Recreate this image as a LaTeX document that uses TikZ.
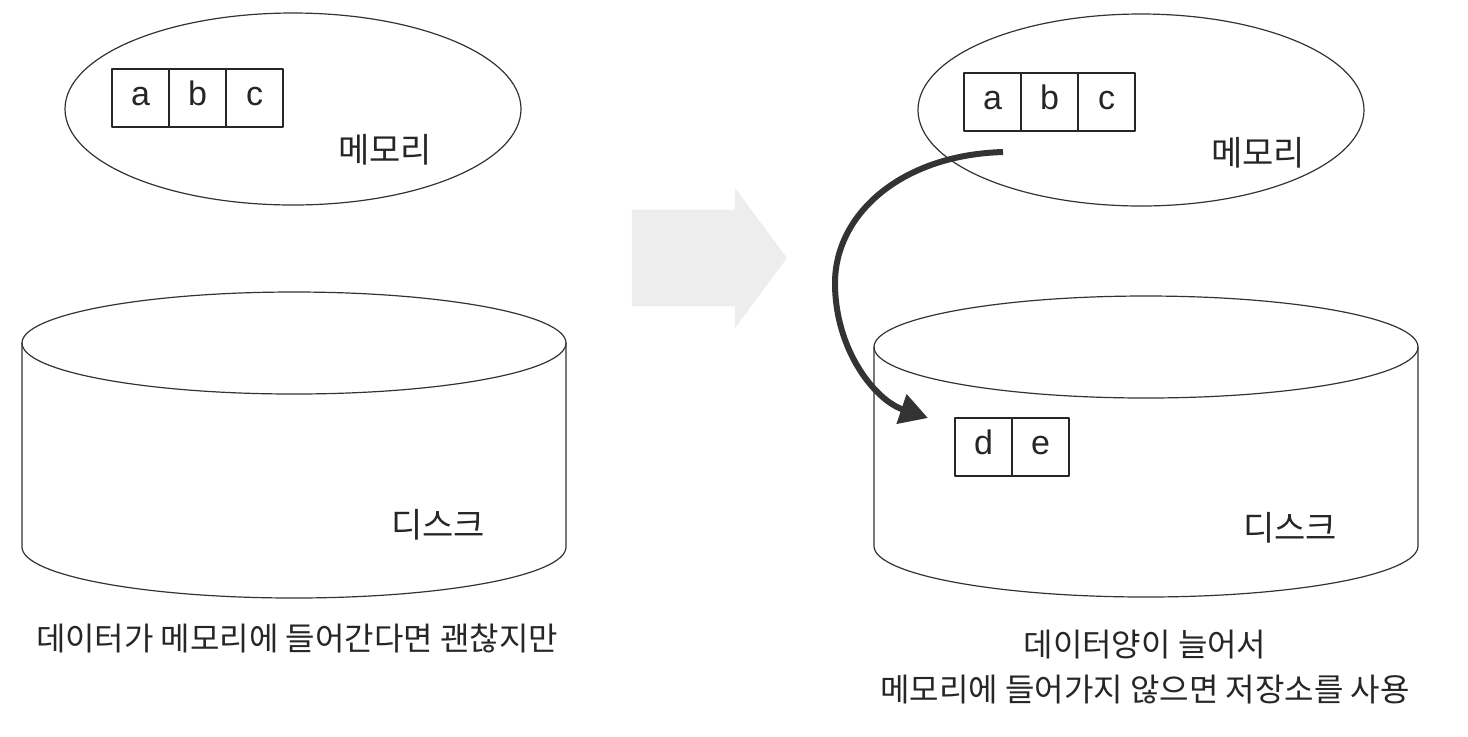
\documentclass[tikz,border=0pt]{standalone}
\usepackage{fontspec}
\setmainfont{Liberation Sans}
\newfontfamily\kofont{Noto Sans CJK KR}
\usetikzlibrary{positioning,shapes.geometric,shapes.arrows,arrows.meta}
\tikzstyle{every node}=[font=\kofont\fontsize{17}{20}\selectfont,text=black!85]
\tikzstyle{every path}=[line cap=round,line join=round]
\tikzstyle{cell}=[draw=black!85,line width=1.2pt,minimum width=28.5pt,minimum height=29pt,inner sep=0pt,outer sep=0pt,text height=0.73em,text depth=0pt,font=\fontsize{17}{20}\selectfont]
\tikzstyle{outline}=[draw=black!80,line width=0.6pt]
\tikzstyle{memory}=[ellipse,outline,inner sep=0pt,minimum height=96pt]
\tikzstyle{caption}=[font=\kofont\fontsize{16}{22.5}\selectfont,align=center]

\begin{document}
\begin{tikzpicture}[x=0.5pt,y=0.5pt]
\useasboundingbox (0,0) rectangle (1468,-736);
	\newcommand\diskrx{272} %radius of the disks
	\newcommand\diskry{51} %flat radius of the disk lids
	%LEFT: data fits in memory
	\node[memory,minimum width=228pt] (memL) at (293,-109) {};
	\node[cell] (aL) at (140.5,-98) {a};
	\node[cell,right=0pt of aL] (bL) {b};
	\node[cell,right=0pt of bL] (cL) {c};
	\node (memtxtL) at (385,-150) {메모리};
	\coordinate (diskLT) at (294,-343); %% centre of the lid
	\coordinate (diskLB) at (294,-547); %% centre of the bottom
	\draw[outline] (diskLT) ellipse [x radius=\diskrx,y radius=\diskry];
	\draw[outline] ([xshift=-\diskrx*0.5pt]diskLT) -- ([xshift=-\diskrx*0.5pt]diskLB) arc [start angle=180,end angle=360,x radius=\diskrx,y radius=\diskry] -- ([xshift=\diskrx*0.5pt]diskLT);
	\node (disktxtL) at (438,-525) {디스크};
	\node[caption] (capL) at (297,-638) {데이터가 메모리에 들어간다면 괜찮지만};
	%big arrow in the middle
	\node[single arrow,fill=black!7,inner xsep=0pt,inner ysep=15.75pt,minimum height=77.5pt,minimum width=70pt,single arrow tip angle=107] (flow) at (691.5,-258) {};
	%RIGHT: data spills to the disk
	\node[memory,minimum width=223pt] (memR) at (1141,-110) {};
	\node[cell] (aR) at (992.5,-102) {a};
	\node[cell,right=0pt of aR] (bR) {b};
	\node[cell,right=0pt of bR] (cR) {c};
	\node (memtxtR) at (1258,-153) {메모리};
	\coordinate (diskRT) at (1146,-347); %% centre of the lid
	\coordinate (diskRB) at (1146,-546); %% centre of the bottom
	\draw[outline] (diskRT) ellipse [x radius=\diskrx,y radius=\diskry];
	\draw[outline] ([xshift=-\diskrx*0.5pt]diskRT) -- ([xshift=-\diskrx*0.5pt]diskRB) arc [start angle=180,end angle=360,x radius=\diskrx,y radius=\diskry] -- ([xshift=\diskrx*0.5pt]diskRT);
	\node[cell] (dR) at (983.5,-447) {d};
	\node[cell,right=0pt of dR] (eR) {e};
	\node (disktxtR) at (1290,-528) {디스크};
	% swap arrow
	\coordinate (swapS) at (1003,-152);
	\coordinate (swapE) at (928,-418);
	\draw[black!80,line width=3pt,line cap=butt,-{Triangle[length=14pt,width=15pt]}] (swapS) .. controls (900,-155) and (835,-215) .. (835,-283) .. controls (835,-350) and (875,-400) .. (swapE);
	\node[caption] (capR) at (1145,-667.5) {데이터양이 늘어서\\메모리에 들어가지 않으면 저장소를 사용};
\end{tikzpicture}
\end{document}
